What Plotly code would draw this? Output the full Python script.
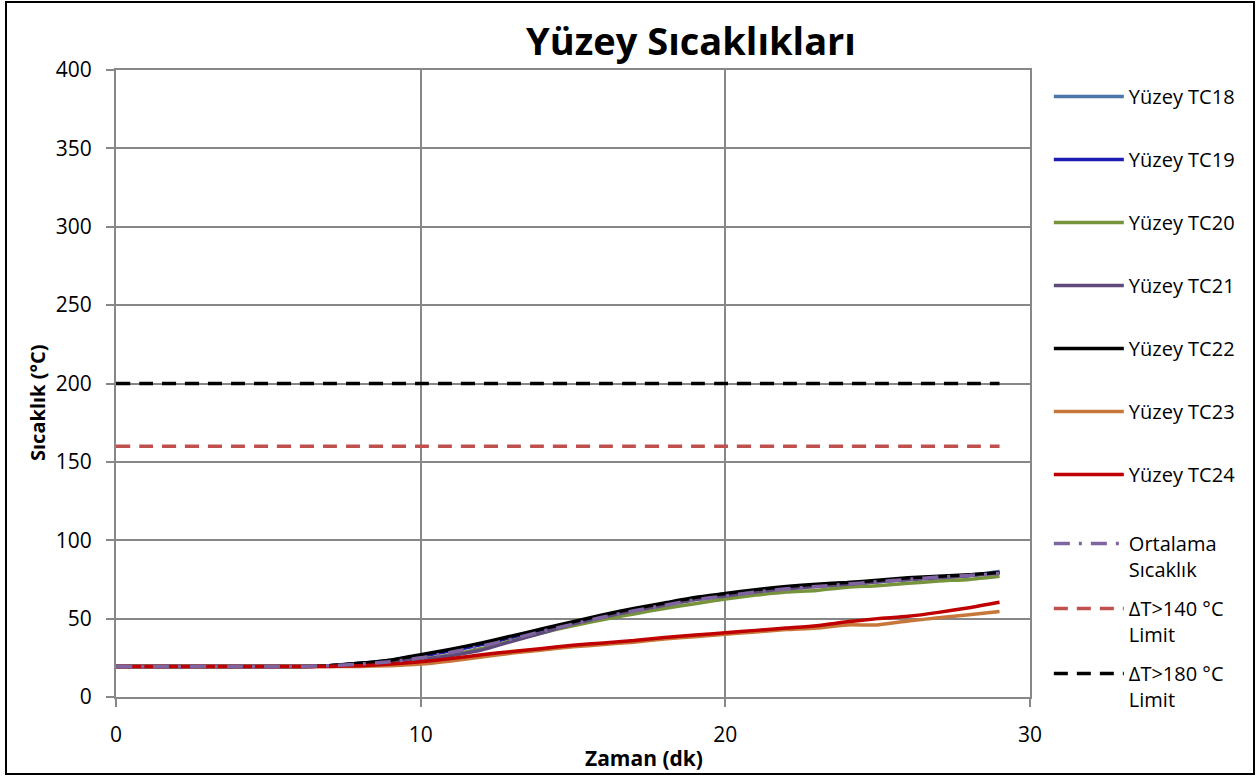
import plotly.graph_objects as go

t = list(range(0, 30))

tc18 = [19.5]*7 + [20, 21.5, 23.5, 26.5, 30, 34, 38.5, 43, 47.5, 52, 56, 59.5, 63, 65.5, 68, 70, 71.5, 72.5, 74, 75.5, 76.5, 77.5, 80]
tc19 = [19.5]*7 + [20, 21.5, 23, 26, 29.5, 33.5, 38, 42.5, 47, 51.5, 55.5, 59, 62.5, 65, 67.5, 69.5, 71, 72, 73.5, 75, 76.5, 77.5, 79.5]
tc20 = [19.5]*7 + [20, 21, 22.5, 24, 27, 31, 36, 41, 45.5, 49.5, 53, 56.5, 59.5, 62.5, 65, 67, 68, 70, 71, 72.5, 74, 75, 77]
tc21 = [19.5]*7 + [20, 21, 22.5, 24, 26.5, 30, 35.5, 41, 46.5, 51, 55, 58.5, 62, 64.5, 67, 69, 70.5, 72, 73.5, 75, 76, 77.5, 79]
tc22 = [19.5]*7 + [20, 21.5, 23.5, 27, 30.5, 34.5, 39, 43.5, 48, 52.5, 56.5, 60, 63.5, 66, 68.5, 70.5, 72, 73, 74.5, 76, 77, 78, 79.5]
tc23 = [19.5]*7 + [19.5, 19.5, 20, 21, 23, 25.5, 28, 30, 32, 33.5, 35, 37, 38.5, 40, 41.5, 43, 44, 46, 46, 48.5, 50.5, 52.5, 54.5]
tc24 = [19.5]*7 + [19.5, 20, 21, 22.5, 24.5, 27, 29, 31, 33, 34.5, 36, 38, 39.5, 41, 42.5, 44, 45.5, 48, 50, 51.5, 54, 57, 60.5]
ortalama = [19.5]*7 + [20, 21, 22.5, 25, 28.5, 32.5, 37, 42, 46.5, 51, 55, 58.5, 62, 64.5, 67, 69, 70.5, 72, 73.5, 75, 76.5, 77.5, 79]
limit140 = [160]*30
limit180 = [200]*30

series = [
    ("Yüzey TC18", tc18, "#4A76A8", "solid", "legend"),
    ("Yüzey TC19", tc19, "#1C1CB0", "solid", "legend"),
    ("Yüzey TC20", tc20, "#77933C", "solid", "legend"),
    ("Yüzey TC21", tc21, "#5F4B7B", "solid", "legend"),
    ("Yüzey TC22", tc22, "#000000", "solid", "legend"),
    ("Yüzey TC23", tc23, "#C8773A", "solid", "legend"),
    ("Yüzey TC24", tc24, "#C00000", "solid", "legend"),
    ("Ortalama<br>Sıcaklık", ortalama, "#8064A2", "16px,9px,3px,9px", "legend2"),
    ("ΔT>140 °C<br>Limit", limit140, "#C0504D", "14px,9px", "legend2"),
    ("ΔT>180 °C<br>Limit", limit180, "#000000", "14px,9px", "legend2"),
]

FONT = "Open Sans"
fig = go.Figure()
for i, (name, vals, col, dash, leg) in enumerate(series):
    fig.add_trace(go.Scatter(
        x=t, y=vals, name=name, mode="lines", legendgroup=f"g{i}", legend=leg,
        line=dict(color=col, width=3.5, dash=dash, shape="spline", smoothing=0.6),
    ))

axis_common = dict(
    showgrid=True, gridcolor="#878787", gridwidth=2,
    showline=True, linecolor="#878787", linewidth=2, mirror=True,
    ticks="outside", ticklen=8, tickcolor="#878787", tickwidth=2,
    zeroline=False, tickfont=dict(family=FONT, size=21, color="#000"),
)

legend_common = dict(xanchor="left", yanchor="top", valign="top", itemwidth=70,
                     font=dict(family=FONT, size=20, color="#000"), bgcolor="rgba(0,0,0,0)")

fig.update_layout(
    width=1258, height=776,
    margin=dict(l=116, r=228, t=70, b=79),
    paper_bgcolor="white", plot_bgcolor="white",
    title=dict(text="<b>Yüzey Sıcaklıkları</b>", x=691/1258, xanchor="center", xref="container",
               y=1-42/776, yanchor="middle", yref="container",
               font=dict(family=FONT, size=38, color="#000")),
    xaxis=dict(range=[0, 30], dtick=10, ticklabelstandoff=10, **axis_common),
    yaxis=dict(range=[0, 400], dtick=50, ticklabelstandoff=10, **axis_common),
    legend=dict(x=1.0206, y=0.989, tracegroupgap=34, **legend_common),
    legend2=dict(x=1.0206, y=0.276, tracegroupgap=10, **legend_common),
    showlegend=True,
)

fig.add_annotation(text="<b>Zaman (dk)</b>", xref="paper", yref="paper",
                   x=(644-116)/914, y=(697-758)/627, xanchor="center", yanchor="middle",
                   showarrow=False, font=dict(family=FONT, size=21, color="#000"))
fig.add_annotation(text="<b>Sıcaklık (°C)</b>", xref="paper", yref="paper", textangle=-90,
                   x=(37-116)/914, y=(697-403)/627, xanchor="center", yanchor="middle",
                   showarrow=False, font=dict(family=FONT, size=20, color="#000"))

fig.add_shape(type="rect", xref="paper", yref="paper",
              x0=(6-116)/914, x1=(1254-116)/914, y0=(697-774)/627, y1=(697-2)/627,
              line=dict(color="#000", width=2), fillcolor="rgba(0,0,0,0)", layer="above")

fig.write_html("out.html", config={"displayModeBar": False},
               post_script="document.body.style.margin='0';document.body.style.overflow='hidden';")
